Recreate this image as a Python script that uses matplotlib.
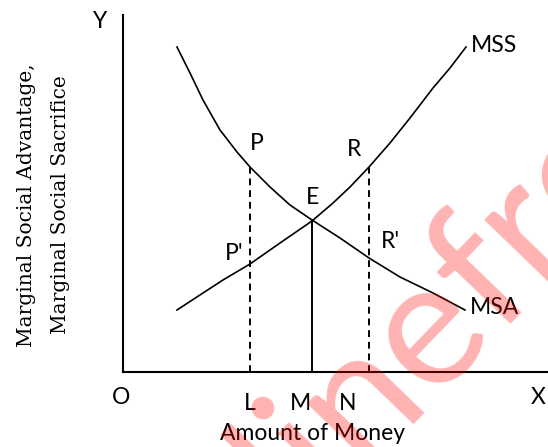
import matplotlib
matplotlib.use("Agg")
import matplotlib.pyplot as plt

# curve points (arbitrary units, O at 0,0)
msa_x = [5.4, 6.7, 8.0, 9.7, 11.4, 12.7, 14.7, 16.7, 18.9, 21.7, 24.6, 27.7, 31.0, 34.2]
msa_y = [32.5, 29.9, 27.2, 24.2, 22.0, 20.5, 18.5, 16.7, 15.2, 13.4, 11.4, 9.5, 7.9, 6.2]
mss_x = [5.4, 8.0, 10.0, 12.7, 15.7, 18.9, 21.0, 22.7, 24.6, 26.7, 28.7, 31.0, 32.7, 34.3]
mss_y = [6.2, 7.9, 9.2, 10.8, 12.9, 15.1, 16.9, 18.5, 20.5, 22.9, 25.4, 28.4, 30.4, 32.5]

# key quantities on the x axis
x_L, x_M, x_N = 12.7, 18.9, 24.6
y_P, y_P2 = 20.5, 10.8      # P on MSA, P' on MSS
y_R, y_R2 = 20.5, 11.4      # R on MSS, R' on MSA
y_E = 15.2

W, H = 548, 447
fig = plt.figure(figsize=(W / 100, H / 100), dpi=100)
ax = fig.add_axes([123 / W, (H - 372) / H, (W - 123) / W, (372 - 15) / H])
ax.set_xlim(0, 42.5)
ax.set_ylim(0, 35.7)
ax.set_xticks([])
ax.set_yticks([])
for s in ["top", "right"]:
    ax.spines[s].set_visible(False)
for s in ["left", "bottom"]:
    ax.spines[s].set_linewidth(1.5)

curve_kw = dict(color="black", lw=1.2, solid_joinstyle="round")
ax.plot(msa_x, msa_y, **curve_kw)
ax.plot(mss_x, mss_y, **curve_kw)

dash_kw = dict(color="black", lw=1.4, dashes=(3.5, 2.5))
ax.plot([x_L, x_L], [0, y_P], **dash_kw)
ax.plot([x_N, x_N], [0, y_R], **dash_kw)
ax.plot([x_M, x_M], [0, y_E], color="black", lw=1.4)

sans = ["Lato", "DejaVu Sans"]
fs = 16.5


def px(x, y, s, ha="center", va="center", size=fs):
    fig.text(x / W, 1 - y / H, s, ha=ha, va=va, fontsize=size, family=sans)


px(100, 22, "Y")
px(538, 398, "X")
px(121, 398, "O")
px(250, 404, "L")
px(301, 404, "M")
px(348, 404, "N")
px(313, 433, "Amount of Money")
px(471, 45, "MSS", ha="left")
px(470, 307, "MSA", ha="left")
px(257, 143, "P")
px(354, 150, "R")
px(312, 198, "E")
px(234, 253, "P'")
px(390, 241, "R'")

serif = ["DejaVu Serif"]
fig.text(27 / W, 1 - 205 / H, "Marginal Social Advantage,", rotation=90,
         ha="center", va="center", fontsize=14.5, family=serif)
fig.text(60 / W, 1 - 205 / H, "Marginal Social Sacrifice", rotation=90,
         ha="center", va="center", fontsize=14.5, family=serif)

# watermark
fig.text(472 / W, 1 - 278 / H, "linefree", rotation=46, rotation_mode="anchor",
         ha="center", va="center", fontsize=128, family=sans,
         color="red", alpha=0.3, zorder=10)

fig.savefig("out.png", dpi=100)
